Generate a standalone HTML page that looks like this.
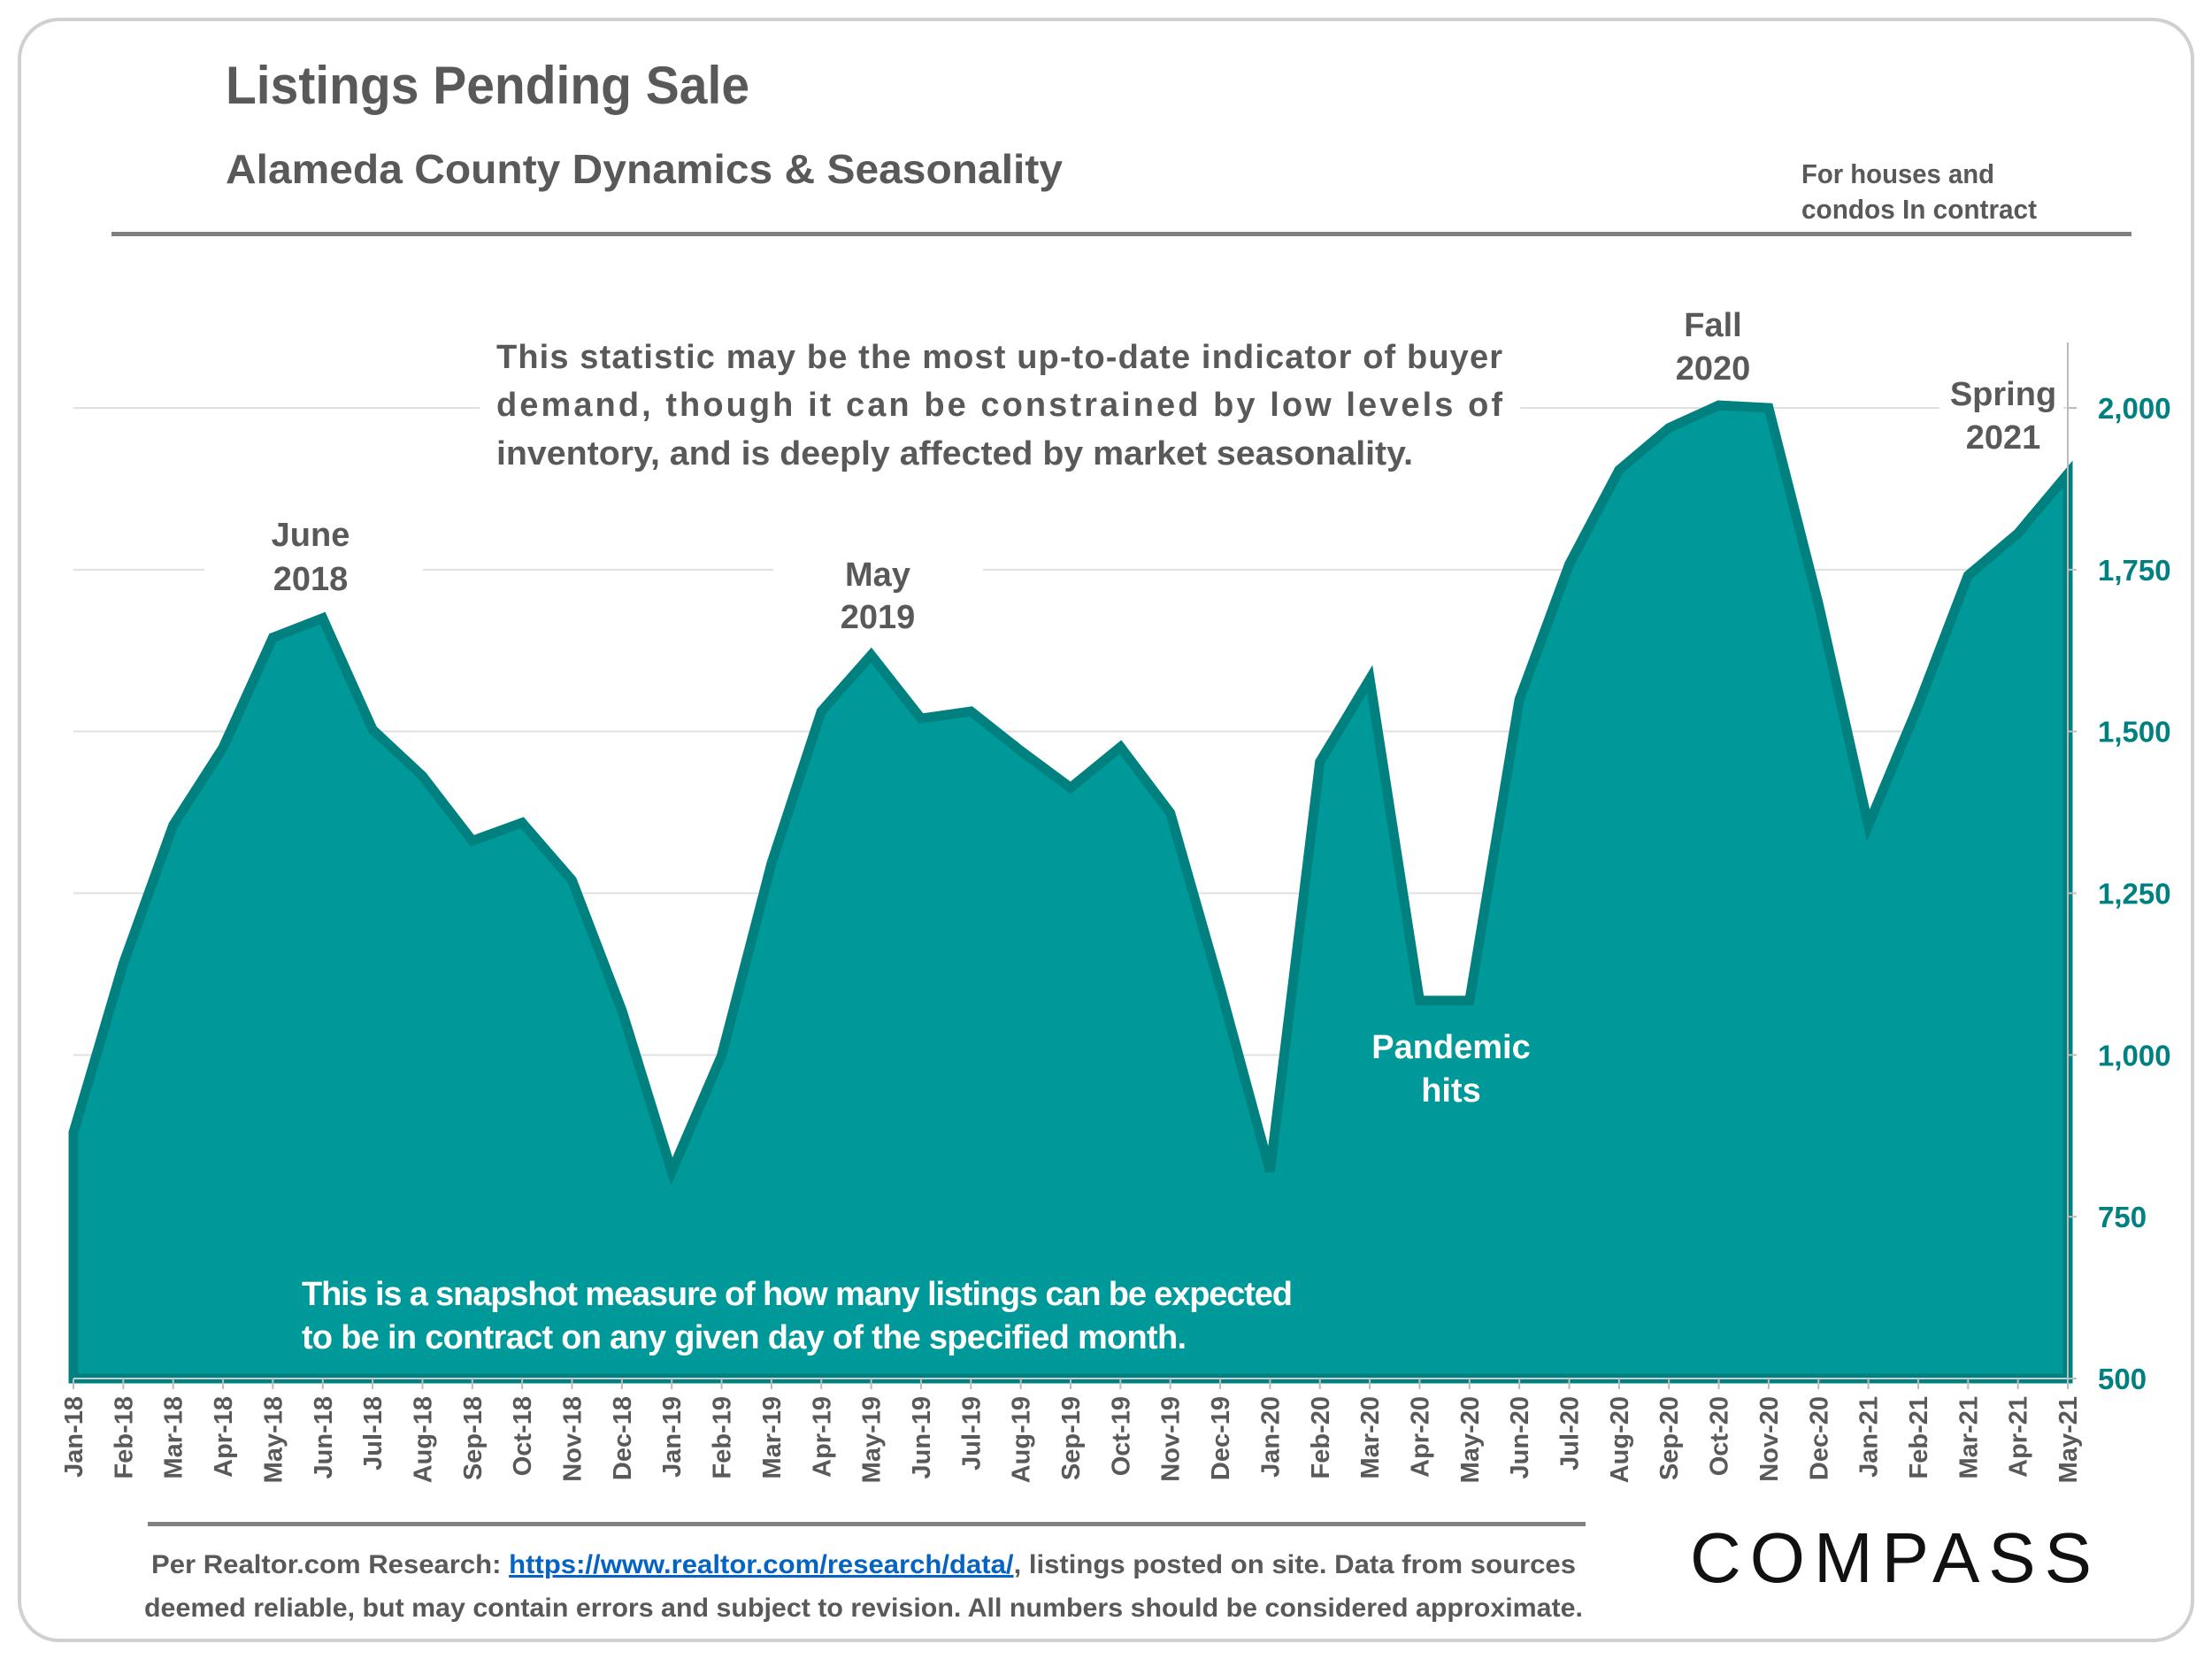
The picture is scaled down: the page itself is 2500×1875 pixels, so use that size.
<!DOCTYPE html>
<html><head><meta charset="utf-8"><style>
html,body{margin:0;padding:0;background:#fff;}
svg{display:block;font-family:"Liberation Sans",sans-serif;}
</style></head><body>
<svg id="chart" width="2500" height="1875" viewBox="0 0 2500 1875" xmlns="http://www.w3.org/2000/svg">
<rect x="22" y="22" width="2456" height="1832" rx="45" fill="#fff" stroke="#d0d0d0" stroke-width="4"/>
<text x="255" y="117" font-size="60" font-weight="bold" fill="#595959" textLength="592" lengthAdjust="spacingAndGlyphs">Listings Pending Sale</text>
<text x="255" y="207" font-size="46" font-weight="bold" fill="#595959" textLength="946" lengthAdjust="spacingAndGlyphs">Alameda County Dynamics &amp; Seasonality</text>
<text x="2036" y="207" font-size="31" font-weight="bold" fill="#595959" textLength="218" lengthAdjust="spacingAndGlyphs">For houses and</text>
<text x="2036" y="247" font-size="31" font-weight="bold" fill="#595959" textLength="266" lengthAdjust="spacingAndGlyphs">condos In contract</text>
<rect x="126" y="262" width="2283" height="5" fill="#808080"/>
<g id="grid"></g>
<g id="plot"></g>
<g id="axes"></g>
<g id="labels" font-weight="bold" font-size="38" fill="#595959" text-anchor="middle">
<rect x="542" y="375" width="1176" height="160" fill="#fff"/>
<text x="561" y="416" text-anchor="start" textLength="1137" lengthAdjust="spacing">This statistic may be the most up-to-date indicator of buyer</text>
<text x="561" y="470" text-anchor="start" textLength="1137" lengthAdjust="spacing">demand, though it can be constrained by low levels of</text>
<text x="561" y="525" text-anchor="start" textLength="1036" lengthAdjust="spacingAndGlyphs">inventory, and is deeply affected by market seasonality.</text>
<rect x="231" y="582" width="247" height="96" fill="#fff"/>
<text x="351" y="617">June</text>
<text x="351" y="667">2018</text>
<rect x="874" y="625" width="237" height="96" fill="#fff"/>
<text x="992" y="662">May</text>
<text x="992" y="710">2019</text>
<rect x="1857" y="343" width="160" height="95" fill="#fff"/>
<text x="1936" y="380">Fall</text>
<text x="1936" y="429">2020</text>
<rect x="2192" y="422" width="140" height="96" fill="#fff"/>
<text x="2264" y="458">Spring</text>
<text x="2264" y="507">2021</text>
</g>
<g id="overlay" font-weight="bold" font-size="38" fill="#fff"></g>
<rect x="167" y="1720" width="1625" height="5" fill="#808080"/>
<text x="976" y="1778" font-size="30" font-weight="bold" fill="#595959" text-anchor="middle" textLength="1610" lengthAdjust="spacingAndGlyphs">Per Realtor.com Research:  <tspan fill="#0563c1" text-decoration="underline">https://www.realtor.com/research/data/</tspan>, listings posted on site. Data from sources</text>
<text x="976" y="1827" font-size="30" font-weight="bold" fill="#595959" text-anchor="middle" textLength="1626" lengthAdjust="spacingAndGlyphs">deemed reliable, but may contain errors and subject to revision. All numbers should be considered approximate.</text>
<text x="1910" y="1788" font-size="80" fill="#111" textLength="454" lengthAdjust="spacing">COMPASS</text>
</svg>
<script>
const months = ["Jan-18","Feb-18","Mar-18","Apr-18","May-18","Jun-18","Jul-18","Aug-18","Sep-18","Oct-18","Nov-18","Dec-18","Jan-19","Feb-19","Mar-19","Apr-19","May-19","Jun-19","Jul-19","Aug-19","Sep-19","Oct-19","Nov-19","Dec-19","Jan-20","Feb-20","Mar-20","Apr-20","May-20","Jun-20","Jul-20","Aug-20","Sep-20","Oct-20","Nov-20","Dec-20","Jan-21","Feb-21","Mar-21","Apr-21","May-21"];
const pending = [880,1141,1355,1475,1645,1675,1503,1431,1331,1359,1270,1069,820,999,1296,1531,1618,1520,1531,1470,1413,1476,1374,1104,820,1453,1581,1084,1084,1549,1758,1904,1969,2004,2000,1697,1355,1540,1741,1806,1898];
const yTicks = [500,750,1000,1250,1500,1750,2000];
const yTickLabels = ["500","750","1,000","1,250","1,500","1,750","2,000"];

const NS="http://www.w3.org/2000/svg";
const X0=83,X1=2337,Y0=1558,Ymin=500,Ymax=2000,YTop=461;
const xs=i=>X0+i*(X1-X0)/(months.length-1);
const ys=v=>Y0-(v-Ymin)*(Y0-YTop)/(Ymax-Ymin);
function mk(tag,attrs,parent){const e=document.createElementNS(NS,tag);for(const k in attrs)e.setAttribute(k,attrs[k]);parent.appendChild(e);return e;}
const grid=document.getElementById('grid'),plot=document.getElementById('plot'),axes=document.getElementById('axes'),overlay=document.getElementById('overlay');
yTicks.forEach((t,i)=>{
  if(i>0){const g=mk('line',{x1:X0,x2:X1,y1:ys(t),y2:ys(t),stroke:'#e0e0e0','stroke-width':2},grid);
  
  }
  const tk=mk('line',{x1:X1,x2:X1+10,y1:ys(t),y2:ys(t),stroke:'#bbb','stroke-width':2},axes);
  
  
  const lb=mk('text',{x:2371,y:ys(t)+12,'font-size':33,'font-weight':'bold',fill:'#008080'},axes);
  lb.textContent=yTickLabels[i];
  
  
});
let d='M'+xs(0)+','+Y0;
pending.forEach((v,i)=>{d+=' L'+xs(i)+','+ys(v);});
d+=' L'+xs(pending.length-1)+','+Y0+' Z';
const area=mk('path',{d:d,fill:'#009999',stroke:'#00807f','stroke-width':11,'stroke-linejoin':'miter'},plot);


const ax=mk('line',{x1:X1,x2:X1,y1:387,y2:Y0,stroke:'#bbb','stroke-width':2},axes);


const xl=mk('line',{x1:X0,x2:X1,y1:Y0,y2:Y0,stroke:'#ccc','stroke-width':2},axes);


months.forEach((m,i)=>{
  const tk=mk('line',{x1:xs(i),x2:xs(i),y1:Y0,y2:Y0+12,stroke:'#bbb','stroke-width':2},axes);
  
  
  const t=mk('text',{x:0,y:0,'font-size':29,'font-weight':'bold',fill:'#595959','text-anchor':'end',transform:'translate('+(xs(i)+10)+','+(Y0+20)+') rotate(-90)'},axes);
  t.textContent=m;
  
  
});
const ov=[["Pandemic",1640,1196,'middle'],["hits",1640,1245,'middle'],["This is a snapshot measure of how many listings can be expected",341,1475,'start'],["to be in contract on any given day of the specified month.",341,1524,'start']];
ov.forEach(o=>{const t=mk('text',{x:o[1],y:o[2],'text-anchor':o[3]},overlay);t.textContent=o[0];
  if(o[3]==='start')t.setAttribute('textLength',o[0].length>60?1120:1000);
  
  });
</script>
</body></html>
